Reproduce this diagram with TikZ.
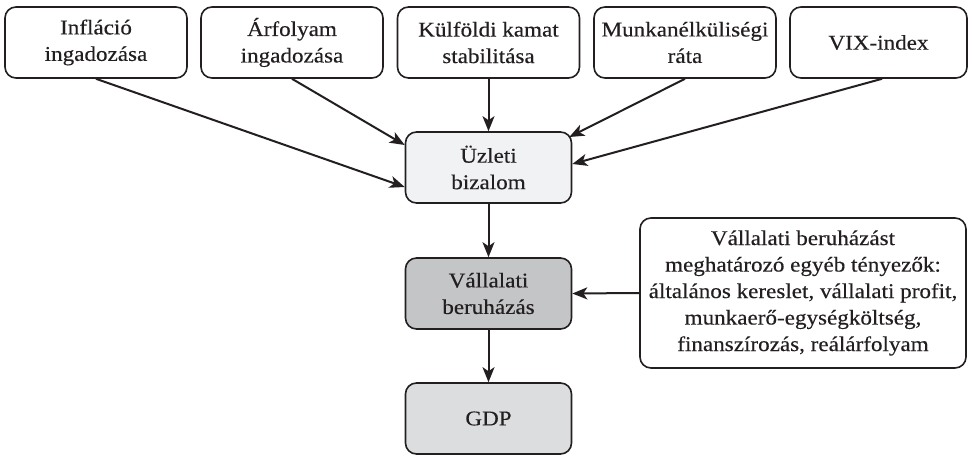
\documentclass[tikz,border=0pt]{standalone}
\usepackage{fontspec}
\setmainfont{Liberation Serif}[FakeStretch=1.1,FakeBold=0.3]
\usetikzlibrary{arrows.meta,calc}
\definecolor{txt}{HTML}{231F20}
\definecolor{fillA}{HTML}{F1F2F4}
\definecolor{fillB}{HTML}{C4C5C7}
\definecolor{fillC}{HTML}{DCDDDF}
\begin{document}
\begin{tikzpicture}[x=1pt,y=-1pt,
  box/.style={draw=txt,line width=1.6pt,rounded corners=11pt,inner sep=0pt,align=center,
    text=txt,font=\fontsize{21}{26.5}\selectfont,minimum height=71pt},
  topbox/.style={box,fill=white,minimum width=182pt},
  midbox/.style={box,minimum width=166pt},
  conn/.style={draw=txt,line width=2pt,-{Stealth[length=15pt,width=12pt,inset=4pt]}}]
\useasboundingbox (0,0) rectangle (968,455);
\node[topbox] (i1) at (96,42.5) {Infláció\\ingadozása};
\node[topbox] (i2) at (292,42.5) {Árfolyam\\ingadozása};
\node[topbox] (i3) at (488.5,42.5) {Külföldi kamat\\stabilitása};
\node[topbox] (i4) at (685,42.5) {Munkanélküliségi\\ráta};
\node[topbox,minimum width=177pt] (i5) at (878.5,42.5) {VIX-index};
\node[midbox,fill=fillA] (uz) at (488.5,167.5) {Üzleti\\bizalom};
\node[midbox,fill=fillB] (va) at (488.5,293.5) {Vállalati\\beruházás};
\node[midbox,fill=fillC] (gdp) at (488.5,418.5) {GDP};
\node[box,fill=white,minimum width=326pt,minimum height=150pt] (ot) at (803,293)
  {Vállalati beruházást\\meghatározó egyéb tényezők:\\általános kereslet, vállalati profit,\\munkaerő-egységköltség,\\finanszírozás, reálárfolyam};
\coordinate (t1) at ($(uz.west)+(0,19.5)$);
\coordinate (t2) at ($(uz.west)+(0,-22.5)$);
\coordinate (t4) at ($(uz.east)+(-3,-30.5)$);
\coordinate (t5) at ($(uz.east)+(0,-3.5)$);
\draw[conn] (i1.south) -- (t1);
\draw[conn] (i2.south) -- (t2);
\draw[conn] (i3.south) -- (uz.north);
\draw[conn] (i4.south) -- (t4);
\draw[conn] ($(i5.south)+(3.5,0)$) -- (t5);
\draw[conn] (uz) -- (va);
\draw[conn] (va) -- (gdp);
\draw[conn] (ot.west) -- (va.east);
\end{tikzpicture}
\end{document}
